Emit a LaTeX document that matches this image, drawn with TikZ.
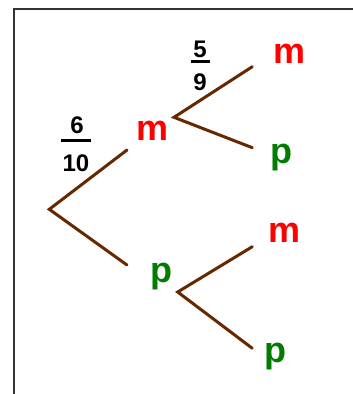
\documentclass[tikz,border=0pt]{standalone}
\usepackage{fontspec}
\setmainfont{Liberation Sans}
\definecolor{brn}{RGB}{102,40,0}
\definecolor{rd}{RGB}{255,0,0}
\definecolor{gr}{RGB}{0,125,0}
\begin{document}
\begin{tikzpicture}[x=1pt,y=-1pt,
  branch/.style={draw=brn,line width=3pt,line cap=round},
  lab/.style={font=\fontsize{36}{36}\selectfont\bfseries,inner sep=0,anchor=base},
  mlab/.style={lab,text=rd},
  plab/.style={lab,text=gr},
  num/.style={font=\fontsize{24}{24}\selectfont\bfseries,inner sep=0,anchor=base},
  fbar/.style={draw=black,line width=3pt}]
\useasboundingbox (0,0) rectangle (353,394);
\draw[line width=1.5pt,draw=black!80] (14,394) -- (14,9) -- (353,9);
% branch points
\coordinate (root) at (49.3,209.3);
\coordinate (r1) at (127,150);
\coordinate (r2) at (127,265);
\coordinate (mA) at (174,117.3);
\coordinate (mAu) at (252.3,66.7);
\coordinate (mAd) at (252.3,147.7);
\coordinate (pA) at (177.7,292);
\coordinate (pAu) at (252.3,246.7);
\coordinate (pAd) at (252.3,348.3);
\draw[branch] (r1) -- (root) -- (r2);
\draw[branch] (mAu) -- (mA) -- (mAd);
\draw[branch] (pAu) -- (pA) -- (pAd);
% labels
\node[mlab] (m1) at (152.5,140) {m};
\node[plab] (p1) at (161,282) {p};
\node[mlab] (m2) at (289.5,63) {m};
\node[plab] (p2) at (281.5,163) {p};
\node[mlab] (m3) at (285,242) {m};
\node[plab] (p3) at (275.5,362) {p};
% fractions
\node[num] (n6) at (77,133) {6};
\draw[fbar] (61,140.7) -- (91,140.7);
\node[num] (n10) at (76,171.7) {10};
\node[num] (n5) at (200,57.5) {5};
\draw[fbar] (190.5,61.7) -- (209.5,61.7);
\node[num] (n9) at (200,90) {9};
\end{tikzpicture}
\end{document}
